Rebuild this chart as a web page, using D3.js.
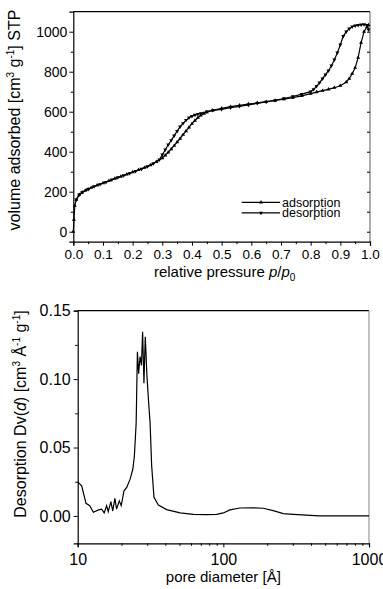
<!DOCTYPE html>
<html><head><meta charset="utf-8">
<script src="https://cdn.jsdelivr.net/npm/d3@7"></script>
<style>
html,body{margin:0;padding:0;background:#fff;}
svg{display:block;font-family:"Liberation Sans",Arial,sans-serif;}
</style></head>
<body>
<svg id="c" width="383" height="589"></svg>
<script>
// ---------- DATA: isotherm ----------
const adsP = [0.000,0.002,0.005,0.01,0.02,0.03,0.04,0.05,0.06,0.08,0.10,0.12,0.14,0.16,0.18,0.20,0.22,0.24,0.26,0.28,0.30,0.31,0.32,0.33,0.34,0.35,0.36,0.37,0.38,0.39,0.40,0.41,0.42,0.43,0.44,0.45,0.47,0.50,0.53,0.56,0.59,0.62,0.65,0.68,0.71,0.74,0.77,0.80,0.82,0.84,0.86,0.88,0.90,0.92,0.93,0.94,0.95,0.96,0.97,0.98,0.99,0.995];
const adsV = [0,60,130,160,185,197,206,213,220,232,243,254,266,276,287,298,309,320,333,349,368,382,397,413,430,448,466,485,503,522,540,556,570,582,591,598,607,617,625,632,638,644,650,656,663,670,679,690,698,705,712,720,730,748,765,790,820,870,945,1000,1025,1033];
const desP = [0.995,0.99,0.98,0.97,0.96,0.95,0.94,0.93,0.92,0.91,0.90,0.89,0.88,0.87,0.86,0.85,0.84,0.83,0.82,0.81,0.80,0.77,0.74,0.71,0.68,0.65,0.62,0.59,0.56,0.53,0.50,0.47,0.45,0.43,0.42,0.41,0.40,0.39,0.38,0.37,0.36,0.35,0.34,0.33,0.32,0.31,0.30,0.29,0.27,0.25,0.23,0.21,0.19,0.17,0.15,0.13,0.11,0.09,0.07,0.05,0.03,0.02,0.01];
const desV = [1010,1033,1036,1035,1033,1030,1025,1015,1000,978,935,895,860,830,805,785,765,745,728,712,700,688,676,666,657,649,642,634,627,620,612,607,600,592,588,584,578,570,558,542,525,503,480,457,435,410,385,360,341,326,314,303,292,281,271,260,248,237,226,213,197,185,160];
const isoXTicks = [0.0,0.1,0.2,0.3,0.4,0.5,0.6,0.7,0.8,0.9,1.0];
const isoYTicks = [0,200,400,600,800,1000];
const legendLabels = ["adsorption","desorption"];

// ---------- DATA: pore size distribution ----------
const poreD = [10,10.65,11.4,12.1,12.8,13.9,14.6,15.2,15.8,16.2,16.9,17.4,18.0,18.5,19.3,19.9,20.8,21.7,22.9,23.9,24.5,25.2,25.7,26.2,26.8,27.4,27.9,28.5,29.1,29.9,30.7,31.4,32.2,33.4,35.8,40.8,50.5,62.3,76.9,89.9,100,111,130,160,188,220,258,302,455,1000];
const poreV = [0.0249,0.022,0.0092,0.0075,0.0027,0.0044,0.005,0.0022,0.0075,0.0031,0.0104,0.0036,0.0128,0.005,0.011,0.0075,0.0184,0.0208,0.0269,0.0341,0.0438,0.068,0.120,0.104,0.1165,0.110,0.1346,0.097,0.131,0.102,0.0826,0.068,0.0366,0.0136,0.008,0.0046,0.0022,0.0012,0.001,0.0012,0.0022,0.0044,0.0058,0.006,0.0056,0.0039,0.0017,0.0012,0.0,0.0];
const poreXTicks = [10,100,1000];
const poreYTicks = [0.00,0.05,0.10,0.15];

const svg = d3.select("#c");

// ================= TOP CHART =================
const t = {l:73.3, r:370, t:11.7, b:241.7};
const x1 = d3.scaleLinear().domain([0,1]).range([t.l,t.r]);
const y1 = d3.scaleLinear().domain([-50,1100]).range([t.b,t.t]);
const g1 = svg.append("g");

g1.append("line").attr("x1",t.l).attr("x2",t.r).attr("y1",t.t).attr("y2",t.t).attr("stroke","#000").attr("stroke-width",1.2);
g1.append("line").attr("x1",t.r).attr("x2",t.r).attr("y1",t.t).attr("y2",t.b).attr("stroke","#777").attr("stroke-width",1.2);

const xa1 = g1.append("g").attr("transform",`translate(0,${t.b})`)
  .call(d3.axisBottom(x1).tickValues(isoXTicks).tickFormat(d3.format(".1f")).tickSize(4).tickPadding(3.5));
xa1.selectAll(".tick text").attr("font-size",13.5);
g1.append("g").attr("transform",`translate(0,${t.b})`)
  .call(d3.axisBottom(x1).tickValues(d3.range(0.05,1,0.1)).tickFormat("").tickSize(2.5))
  .select(".domain").remove();
const ya1 = g1.append("g").attr("transform",`translate(${t.l},0)`)
  .call(d3.axisLeft(y1).tickValues(isoYTicks).tickFormat(d3.format("d")).tickSize(4).tickPadding(2));
ya1.selectAll(".tick text").attr("font-size",14);
g1.append("g").attr("transform",`translate(${t.l},0)`)
  .call(d3.axisLeft(y1).tickValues([100,300,500,700,900]).tickFormat("").tickSize(2.5))
  .select(".domain").remove();
g1.append("g").attr("transform",`translate(${t.r},0)`)
  .call(d3.axisRight(y1).tickValues(d3.range(0,1001,100)).tickFormat("").tickSize(-3))
  .select(".domain").remove();

const line1 = d3.line().x(d=>x1(d[0])).y(d=>y1(d[1]));
const ads = adsP.map((p,i)=>[p,adsV[i]]);
const des = desP.map((p,i)=>[p,desV[i]]);
g1.append("path").datum(ads).attr("d",line1).attr("fill","none").attr("stroke","#000").attr("stroke-width",1.2);
g1.append("path").datum(des).attr("d",line1).attr("fill","none").attr("stroke","#000").attr("stroke-width",1.2);
const triUp = d3.symbol().type(d3.symbolTriangle).size(7);
g1.selectAll(".mu").data(ads).join("path").attr("d",triUp)
  .attr("transform",d=>`translate(${x1(d[0])},${y1(d[1])})`).attr("fill","#000");
g1.selectAll(".md").data(des).join("path").attr("d",triUp)
  .attr("transform",d=>`translate(${x1(d[0])},${y1(d[1])}) rotate(180)`).attr("fill","#000");

const lg = g1.append("g");
legendLabels.forEach((lab,i)=>{
  const yy = 202.3 + i*10.6;
  lg.append("line").attr("x1",241.7).attr("x2",280).attr("y1",yy).attr("y2",yy).attr("stroke","#000").attr("stroke-width",1.2);
  lg.append("path").attr("d",triUp).attr("transform",`translate(261,${yy})`+(i?" rotate(180)":"")).attr("fill","#000");
  lg.append("text").attr("x",282).attr("y",yy+4.3).attr("font-size",12.5).text(lab);
});

const xl1 = g1.append("text").attr("x",(t.l+t.r)/2+3).attr("y",277).attr("text-anchor","middle").attr("font-size",15);
xl1.append("tspan").text("relative pressure ");
xl1.append("tspan").attr("font-style","italic").text("p");
xl1.append("tspan").text("/");
xl1.append("tspan").attr("font-style","italic").text("p");
xl1.append("tspan").attr("font-size",10).attr("dy",4).text("0");

const yl1 = g1.append("text").attr("transform","translate(20,120) rotate(-90)").attr("text-anchor","middle").attr("font-size",16);
yl1.append("tspan").text("volume adsorbed [cm");
yl1.append("tspan").attr("font-size",10).attr("dy",-6).text("3");
yl1.append("tspan").attr("dy",6).text(" g");
yl1.append("tspan").attr("font-size",10).attr("dy",-6).text("-1");
yl1.append("tspan").attr("dy",6).text("] STP");

// ================= BOTTOM CHART =================
const b = {l:77.7, r:369, t:310.7, b:543.3};
const x2 = d3.scaleLog().domain([10,1000]).range([b.l,b.r]);
const y2 = d3.scaleLinear().domain([-0.02,0.15]).range([b.b,b.t]);
const g2 = svg.append("g");

g2.append("line").attr("x1",b.l).attr("x2",b.r).attr("y1",b.t).attr("y2",b.t).attr("stroke","#000").attr("stroke-width",1.2);
g2.append("line").attr("x1",b.r).attr("x2",b.r).attr("y1",b.t).attr("y2",b.b).attr("stroke","#999").attr("stroke-width",1.2);

const xa2 = g2.append("g").attr("transform",`translate(0,${b.b})`)
  .call(d3.axisBottom(x2).tickValues(poreXTicks).tickFormat(d3.format("d")).tickSize(4).tickPadding(6));
xa2.selectAll(".tick text").attr("font-size",16);
const minorLog = [20,30,40,50,60,70,80,90,200,300,400,500,600,700,800,900];
g2.append("g").attr("transform",`translate(0,${b.b})`)
  .call(d3.axisBottom(x2).tickValues(minorLog).tickFormat("").tickSize(2.5))
  .select(".domain").remove();
const ya2 = g2.append("g").attr("transform",`translate(${b.l},0)`)
  .call(d3.axisLeft(y2).tickValues(poreYTicks).tickFormat(d3.format(".2f")).tickSize(4).tickPadding(3));
ya2.selectAll(".tick text").attr("font-size",16);
g2.append("g").attr("transform",`translate(${b.l},0)`)
  .call(d3.axisLeft(y2).tickValues([0.025,0.075,0.125]).tickFormat("").tickSize(2.5))
  .select(".domain").remove();

const line2 = d3.line().x(d=>x2(d[0])).y(d=>y2(d[1]));
g2.append("path").datum(poreD.map((d,i)=>[d,poreV[i]])).attr("d",line2)
  .attr("fill","none").attr("stroke","#000").attr("stroke-width",1.2);

g2.append("text").attr("x",(b.l+b.r)/2).attr("y",582).attr("text-anchor","middle").attr("font-size",15).text("pore diameter [Å]");
const yl2 = g2.append("text").attr("transform","translate(26,414) rotate(-90)").attr("text-anchor","middle").attr("font-size",16);
yl2.append("tspan").text("Desorption Dv(");
yl2.append("tspan").attr("font-style","italic").text("d");
yl2.append("tspan").text(") [cm");
yl2.append("tspan").attr("font-size",10).attr("dy",-6).text("3");
yl2.append("tspan").attr("dy",6).text(" Å");
yl2.append("tspan").attr("font-size",10).attr("dy",-6).text("-1");
yl2.append("tspan").attr("dy",6).text(" g");
yl2.append("tspan").attr("font-size",10).attr("dy",-6).text("-1");
yl2.append("tspan").attr("dy",6).text("]");

svg.selectAll(".tick text").attr("fill","#000").attr("font-family","Liberation Sans, Arial, sans-serif");
svg.selectAll(".domain").attr("stroke","#000").attr("stroke-width",1.2);
svg.selectAll(".tick line").attr("stroke","#000").attr("stroke-width",1);
</script>
</body></html>
